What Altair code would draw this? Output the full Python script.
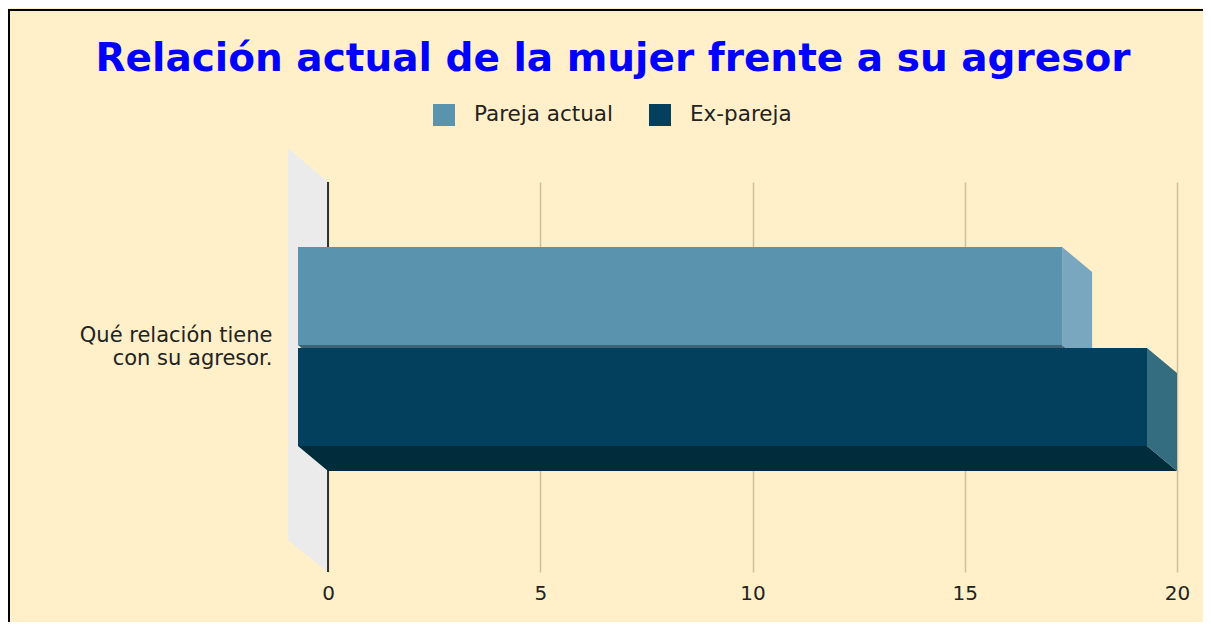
import json
import altair as alt
import pandas as pd

# ---------------- data ----------------
categoria = "Qué relación tiene con su agresor."
categoria_lineas = ["Qué relación tiene", "con su agresor."]
series = ["Pareja actual", "Ex-pareja"]
valores = [18, 20]
ticks_x = [0, 5, 10, 15, 20]
titulo = "Relación actual de la mujer frente a su agresor"

df = pd.DataFrame({"categoria": [categoria] * len(series), "serie": series, "valor": valores})
df0 = pd.DataFrame({"z": [0]})

# ---------------- styles ----------------
W, H = 849, 390
DX, DY = 30, 25          # 3D depth offset (px)
HALF = 49                # half of bar thickness (px)
bg = "#FFF0C9"
front_colors = ["#5A93AE", "#02405E"]
side_colors = ["#79A7BF", "#346C80"]
bottom_colors = ["#3E6374", "#002C3B"]
wall_color = "#EBEBEB"
grid_color = "#CDC0A0"
text_color = "#222222"
font = "DejaVu Sans"

xscale = alt.Scale(domain=[0, 20], nice=False, zero=True)
xaxis = alt.Axis(title=None, values=ticks_x, grid=True, gridColor=grid_color, gridWidth=1.5,
                 domain=False, ticks=False, labelFlush=False, labelFont=font, labelFontSize=20,
                 labelColor=text_color, labelPadding=11)
yscale = alt.Scale(domain=series, paddingInner=0.0297, paddingOuter=0.9455, align=0.471)
label_expr = (f"datum.value === {json.dumps(series[0])} ? "
              f"{json.dumps(categoria_lineas, ensure_ascii=False)} : ''")
yaxis = alt.Axis(title=None, labelExpr=label_expr, labelOffset=15, labelPadding=56, ticks=False,
                 domain=False, grid=False, labelFont=font, labelFontSize=21, labelColor=text_color,
                 labelLimit=400, labelLineHeight=23, labelBaseline="middle", labelAlign="right")

X = alt.X("valor:Q", scale=xscale, axis=xaxis, stack=None)
Y = alt.Y("serie:N", scale=yscale, axis=yaxis, sort=series)


def colour(rng, legend=None):
    if legend is None:
        return alt.Color("serie:N", scale=alt.Scale(domain=series, range=rng), legend=None)
    return alt.Color("serie:N", scale=alt.Scale(domain=series, range=rng), legend=legend)


def shape_point(path):
    return alt.Chart(df).mark_point(shape=path, size=4, filled=True, opacity=1, strokeWidth=0)


# back wall
wall = alt.Chart(df0).mark_point(
    shape=f"M{-40},{-34}L0,0L0,{H}L{-40},{H - 32}Z", size=4, filled=True, opacity=1,
    strokeWidth=0, color=wall_color
).encode(x=alt.X("z:Q", scale=xscale, axis=xaxis), y=alt.value(0))

zero_rule = alt.Chart(df0).mark_rule(color="#333333", strokeWidth=2).encode(
    x=alt.X("z:Q", scale=xscale, axis=xaxis))

# bottom faces
bottom_rect = alt.Chart(df).mark_bar(height=DY, xOffset=-DX, x2Offset=0,
                                     yOffset=HALF - DY / 2).encode(
    x=X, x2=alt.X2Datum(0), y=Y, color=colour(bottom_colors))
bottom_left = shape_point(f"M{-DX},{HALF - DY}L0,{HALF - DY}L0,{HALF}Z").encode(
    x=alt.XDatum(0, scale=xscale, axis=xaxis), y=Y, color=colour(bottom_colors))
bottom_right = shape_point(f"M{-DX},{HALF - DY}L0,{HALF}L{-DX},{HALF}Z").encode(
    x=X, y=Y, color=colour(bottom_colors))

# side faces
side = shape_point(f"M{-DX},{-HALF - DY}L0,{-HALF}L0,{HALF}L{-DX},{HALF - DY}Z").encode(
    x=X, y=Y, color=colour(side_colors))

# front faces
legend = alt.Legend(title=None, orient="none", legendX=105, legendY=-78, direction="horizontal",
                    symbolType="square", symbolSize=484, symbolStrokeWidth=0, labelFont=font,
                    labelFontSize=21.5, labelColor=text_color, labelOffset=19, columnPadding=36,
                    padding=0)
front = alt.Chart(df).mark_bar(xOffset=-DX, x2Offset=-DX, yOffset=-DY, y2Offset=-DY).encode(
    x=X, x2=alt.X2Datum(0), y=Y, color=colour(front_colors, legend))

# outer frame (top and left edges only)
frame_left = alt.Chart(df0).mark_rule(color="black", strokeWidth=2).encode(
    x=alt.value(-319), y=alt.value(-173), y2=alt.value(H + 60))
frame_top = alt.Chart(df0).mark_rule(color="black", strokeWidth=2).encode(
    y=alt.value(-172), x=alt.value(-320), x2=alt.value(W + 40))

chart = alt.layer(wall, zero_rule, bottom_rect, bottom_left, bottom_right, side, front,
                  frame_left, frame_top).resolve_scale(
    color="independent"
).properties(
    width=W, height=H, background=bg,
    padding={"left": 320, "top": 174, "right": 26, "bottom": 50},
    autosize=alt.AutoSizeParams(type="none"),
    title=alt.TitleParams(titulo, font=font, fontSize=39, fontWeight="bold", color="#0000FF",
                          anchor="middle", frame="group", dx=-139.5, dy=142, offset=40,
                          baseline="alphabetic"),
).configure_view(strokeWidth=0)

chart.save("out.html", embed_options={"renderer": "svg", "actions": False})
